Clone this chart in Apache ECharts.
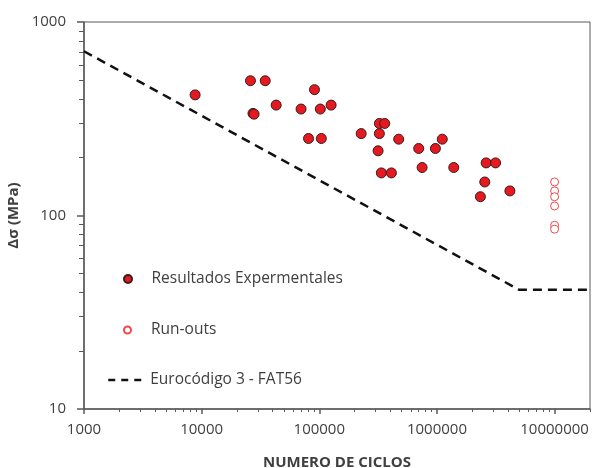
<!DOCTYPE html>
<html>
<head>
<meta charset="utf-8">
<script src="https://cdn.jsdelivr.net/npm/echarts@6/dist/echarts.min.js"></script>
<style>
  html, body { margin: 0; padding: 0; background: #fff; }
  #main { width: 594px; height: 468px; }
</style>
</head>
<body>
<div id="main"></div>
<script>
// resultados experimentales (ciclos, MPa)
var expCycles = [8800, 26000, 34700, 91000, 43000, 27300, 27900, 70000, 102000, 126000,
                 81000, 104000, 227000, 324000, 360000, 324000, 473000, 316000, 337000, 410000,
                 700000, 970000, 1110000, 748000, 1390000, 2620000, 3150000, 2550000, 4170000, 2340000];
var expStress = [420, 497, 497, 447, 372, 337, 334, 355, 355, 372,
                 250, 250, 265, 299, 299, 265, 248, 216, 166, 166,
                 222, 222, 248, 177, 177, 187, 187, 149, 134, 125];
// run-outs
var runCycles = [10000000, 10000000, 10000000, 10000000, 10000000, 10000000];
var runStress = [149, 134, 125, 112, 89, 85];
// curva FAT56
var fatCycles = [1000, 5000000, 20000000];
var fatStress = [706, 41.3, 41.3];
// ticks
var xMajor = [1000, 10000, 100000, 1000000, 10000000];
var yMajor = [10, 100, 1000];
var minorSteps = [2, 3, 4, 5, 6, 7, 8, 9];
var xMinor = [];
xMajor.forEach(function (d) { minorSteps.forEach(function (s) { xMinor.push(d * s); }); });
xMinor = xMinor.filter(function (v) { return v <= 20000000; });
var yMinor = [];
[10, 100].forEach(function (d) { minorSteps.forEach(function (s) { yMinor.push(d * s); }); });

function pairs(a, b) { return a.map(function (v, i) { return [v, b[i]]; }); }

var FONT = 'Open Sans';
var axisCol = '#5a5a5a';
var textCol = '#404040';
var legendText = { fontFamily: FONT, fontSize: 15.5, color: textCol, lineHeight: 20 };

var option = {
    backgroundColor: '#fff',
    animation: false,
    grid: { left: 84, right: 4, top: 22, bottom: 59, show: true, borderColor: axisCol, borderWidth: 1,
            outerBoundsMode: 'none', containLabel: false },
    legend: [
        { data: ['Resultados Expermentales'], left: 123, top: 269, padding: 0, itemWidth: 37, itemHeight: 8, itemGap: 5,
          textStyle: legendText },
        { data: ['Run-outs'], left: 123, top: 320, padding: 0, itemWidth: 37, itemHeight: 7, itemGap: 5,
          textStyle: legendText },
        { data: ['Eurocódigo 3 - FAT56'], left: 107, top: 370, padding: 0, itemWidth: 37, itemHeight: 9, itemGap: 5,
          lineStyle: { width: 2.5, type: [7, 6] },
          itemStyle: { opacity: 0, borderWidth: 0 },
          textStyle: legendText }
    ],
    xAxis: [
        {
            type: 'log', logBase: 10, min: 1000, max: 20000000, position: 'bottom',
            name: 'NUMERO DE CICLOS', nameLocation: 'middle', nameGap: 46,
            nameTextStyle: { fontFamily: FONT, fontSize: 15, fontWeight: 'bold', color: textCol },
            axisLine: { lineStyle: { color: axisCol, width: 1.5 } },
            axisTick: { length: 5, customValues: xMajor, lineStyle: { color: axisCol, width: 1.5 } },
            axisLabel: { customValues: xMajor, margin: 13, fontFamily: FONT, fontSize: 15, color: textCol,
                         formatter: function (v) { return String(v); } },
            splitLine: { show: false }
        },
        {
            type: 'log', logBase: 10, min: 1000, max: 20000000, position: 'bottom', offset: 0,
            axisLine: { show: false },
            axisTick: { length: 3, customValues: xMinor, lineStyle: { color: axisCol, width: 1 } },
            axisLabel: { show: false },
            splitLine: { show: false }
        }
    ],
    yAxis: [
        {
            type: 'log', logBase: 10, min: 10, max: 1000, position: 'left',
            name: 'Δσ (MPa)', nameLocation: 'middle', nameGap: 53, nameRotate: 90,
            nameTextStyle: { fontFamily: FONT, fontSize: 15, fontWeight: 'bold', color: textCol },
            axisLine: { lineStyle: { color: axisCol, width: 1.5 } },
            axisTick: { length: 7, customValues: yMajor, lineStyle: { color: axisCol, width: 1.5 } },
            axisLabel: { customValues: yMajor, margin: 18, fontFamily: FONT, fontSize: 15, color: textCol,
                         formatter: function (v) { return String(v); } },
            splitLine: { show: false }
        },
        {
            type: 'log', logBase: 10, min: 10, max: 1000, position: 'left', offset: 0,
            axisLine: { show: false },
            axisTick: { length: 5, customValues: yMinor, lineStyle: { color: axisCol, width: 1 } },
            axisLabel: { show: false },
            splitLine: { show: false }
        }
    ],
    series: [
        {
            name: 'Eurocódigo 3 - FAT56', type: 'line', symbol: 'none',
            lineStyle: { color: '#111', width: 2.5, type: [9, 6] },
            itemStyle: { color: '#111' },
            data: pairs(fatCycles, fatStress), z: 2
        },
        {
            name: 'Resultados Expermentales', type: 'scatter', symbol: 'circle', symbolSize: 10,
            itemStyle: { color: '#e5191f', borderColor: '#3a1c1c', borderWidth: 1, opacity: 1 },
            data: pairs(expCycles, expStress), z: 3
        },
        {
            name: 'Run-outs', type: 'scatter', symbol: 'circle', symbolSize: 8,
            itemStyle: { color: '#fff', borderColor: '#f0484c', borderWidth: 1, opacity: 1 },
            data: pairs(runCycles, runStress), z: 3
        }
    ]
};

var myChart = echarts.init(document.getElementById('main'));
myChart.setOption(option);
</script>
</body>
</html>
